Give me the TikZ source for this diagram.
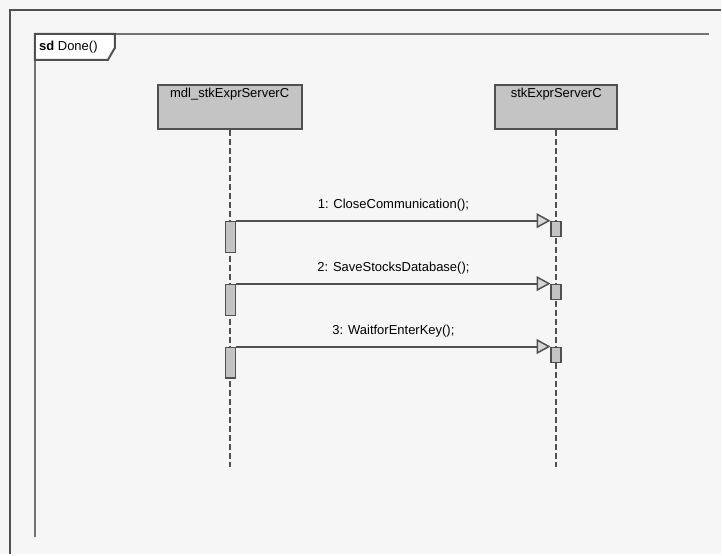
\documentclass[tikz,border=0pt]{standalone}
\usepackage{fontspec}
\setmainfont{Liberation Sans}
\usetikzlibrary{arrows.meta}
\definecolor{framegray}{RGB}{80,80,80}
\definecolor{headgray}{RGB}{196,196,196}
\definecolor{bggray}{RGB}{246,246,246}
\definecolor{tipgray}{RGB}{214,214,214}
\newcommand{\fs}{\fontsize{13}{15}\selectfont}

\begin{document}
\begin{tikzpicture}[x=1pt,y=-1pt,
   head/.style={draw=framegray,fill=headgray,line width=2pt,anchor=north,
     text height=9pt,text depth=27pt,inner ysep=4pt,font=\fs},
   bar/.style={draw=framegray,fill=headgray,line width=1.5pt,anchor=north,
     minimum width=10pt,inner sep=0pt},
   lifeline/.style={draw=framegray,line width=2pt,dash pattern=on 6pt off 3pt},
   msg/.style={draw=framegray,line width=2pt,
     -{Triangle[length=14pt,width=15pt,fill=tipgray,line width=1.5pt]}}]
   % page and frames
   \fill[bggray] (0,0) rectangle (722,555);
   \draw[framegray,line width=2pt] (10,555) -- (10,10) -- (722,10);
   \draw[framegray!80,line width=2pt] (35,538) -- (35,34) -- (710,34);
   \draw[framegray,line width=2pt,fill=white]
    (35,34) -- (115,34) -- (115,48) -- (108,60) -- (35,60) -- cycle;
   \node[anchor=west,font=\fs,inner sep=0pt] (sdlabel) at (39,47) {\textbf{sd} Done()};
   % lifelines
   \node[head,minimum width=144pt] (mdl) at (230,84) {mdl\_stkExprServerC};
   \node[head,minimum width=122pt] (srv) at (557,84) {stkExprServerC};
   \coordinate (mdlend) at (230,468);
   \coordinate (srvend) at (557,468);
   \draw[lifeline] (mdl.south) -- (mdlend);
   \draw[lifeline] (srv.south) -- (srvend);
   % activations
   \node[bar,minimum height=31pt] (a1) at (231,221) {};
   \node[bar,minimum height=31pt] (a2) at (231,284) {};
   \node[bar,minimum height=31pt] (a3) at (231,347) {};
   \node[bar,minimum height=15pt] (b1) at (557,221) {};
   \node[bar,minimum height=15pt] (b2) at (557,284) {};
   \node[bar,minimum height=15pt] (b3) at (557,347) {};
   % messages
   \draw[msg] (a1.north east) -- (b1.north west)
     node[midway,above=5pt,font=\fs]{1: CloseCommunication();};
   \draw[msg] (a2.north east) -- (b2.north west)
     node[midway,above=5pt,font=\fs]{2: SaveStocksDatabase();};
   \draw[msg] (a3.north east) -- (b3.north west)
     node[midway,above=5pt,font=\fs]{3: WaitforEnterKey();};
\end{tikzpicture}
\end{document}
